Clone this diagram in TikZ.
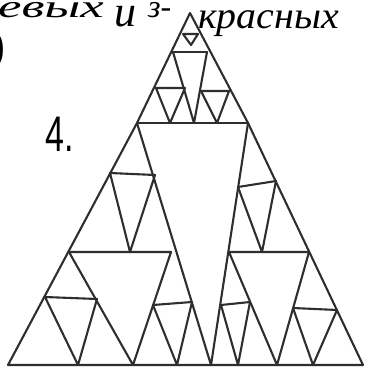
\documentclass[tikz,border=0pt]{standalone}
\usepackage{fontspec}
\setmainfont{Liberation Serif}
\newfontfamily\handsans{Liberation Sans}
\tikzset{
  pen/.style={draw=black!82, line width=2.1pt, line join=round, line cap=round},
  hand/.style={inner sep=0pt, text=black, font=\fontsize{38}{38}\selectfont\itshape}
}
\begin{document}
\begin{tikzpicture}[x=1pt, y=-1pt]
\fill[white] (0,0) rectangle (367,369);
\useasboundingbox (0,0) rectangle (367,369);

% main vertices
\coordinate (A) at (190,13);
\coordinate (TL) at (137,123);
\coordinate (TR) at (248,123);
\coordinate (L) at (8,365);
\coordinate (R) at (363,365);
\coordinate (M) at (211,365);

% outer triangle and first split
\draw[pen] (A) -- (TL) -- (L) -- (R) -- (TR) -- cycle;
\draw[pen] (TL) -- (TR);
\draw[pen] (TL) -- (M) -- (TR);

% top part
\coordinate (T1) at (173,52);
\coordinate (T2) at (207,52);
\coordinate (TC) at (194,123);
\draw[pen] (T1) -- (T2);
\draw[pen] (T1) -- (TC) -- (T2);
\draw[pen] (183,34) -- (198,34) -- (191,45) -- cycle;
\draw[pen] (156,88) -- (185,88) -- (170,123) -- cycle;
\draw[pen] (201,91) -- (229,91) -- (217,123) -- cycle;

% left part
\coordinate (LA) at (69,252);
\coordinate (LB) at (171,252);
\coordinate (LV) at (133,365);
\draw[pen] (LA) -- (LB) -- (LV) -- cycle;
\draw[pen] (110,173) -- (155,175) -- (130,252) -- cycle;
\draw[pen] (45,297) -- (97,299) -- (78,365) -- cycle;
\draw[pen] (153,305) -- (192,302) -- (177,365) -- cycle;

% right part
\coordinate (RA) at (229,252);
\coordinate (RB) at (309,252);
\coordinate (RV) at (277,365);
\draw[pen] (RA) -- (RB) -- (RV) -- cycle;
\draw[pen] (238,187) -- (276,181) -- (262,252) -- cycle;
\draw[pen] (221,305) -- (250,302) -- (238,365) -- cycle;
\draw[pen] (293,308) -- (337,310) -- (313,365) -- cycle;

% texts
\node[hand, anchor=base west, font=\fontsize{32}{32}\selectfont\itshape] (w1) at (-2,18) {\scalebox{1.65}[1]{евых}};
\node[hand, anchor=base west, font=\fontsize{44}{44}\selectfont\itshape] (w1b) at (114,27) {и};
\node[hand, anchor=base west, font=\fontsize{32}{32}\selectfont\itshape] (w2) at (148,18) {з-};
\node[hand, anchor=base west] (w3) at (198,29) {\scalebox{1.05}[1]{красных}};
\node[hand, anchor=base west, font=\fontsize{48}{48}\selectfont\bfseries] (br) at (-11,61) {)};
\node[inner sep=0pt, anchor=base west, font=\handsans\fontsize{50}{50}\selectfont] (n4) at (45,151) {\scalebox{0.68}[1]{4.}};
\end{tikzpicture}
\end{document}
